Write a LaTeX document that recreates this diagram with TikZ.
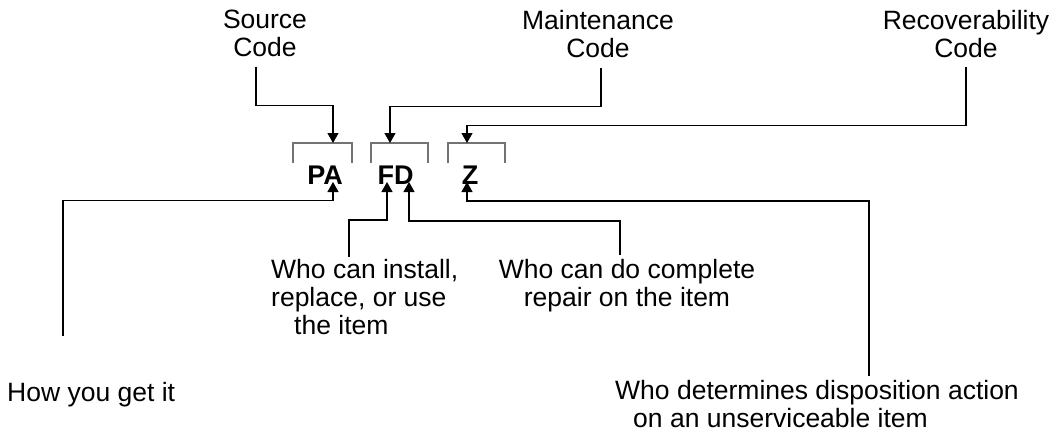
\documentclass[tikz,border=0pt]{standalone}
\usepackage{fontspec}
\setmainfont{Liberation Sans}
\usepackage{tikz}
\usetikzlibrary{positioning,arrows.meta}

\begin{document}
\begin{tikzpicture}[
    x=1pt, y=-1pt,
    labelNode/.style={inner sep=0pt, align=center, font=\fontsize{26.5}{28}\selectfont},
    letterNode/.style={inner sep=0pt, font=\fontsize{27}{28}\selectfont\bfseries},
    bracketLine/.style={draw=black!55, line width=1.3pt},
    codeArrow/.style={draw=black, line width=1.2pt, -{Triangle[length=10pt, width=11pt]}}
]
    \useasboundingbox (0,0) rectangle (1052,436);

    % code names on top
    \node[labelNode, anchor=north] (src) at (265,10) {Source\\Code};
    \node[labelNode, anchor=north] (mnt) at (598,10) {Maintenance\\Code};
    \node[labelNode, anchor=north] (rcv) at (966,10) {Recoverability\\Code};

    % the code letters
    \node[letterNode, anchor=base] (pa) at (325,184) {PA};
    \node[letterNode, anchor=base] (fd) at (395.5,184) {FD};
    \node[letterNode, anchor=base] (z)  at (470,184) {Z};

    \draw[bracketLine] (293,163) |- (352,143) -- (352,163);
    \draw[bracketLine] (371,163) |- (428,143) -- (428,163);
    \draw[bracketLine] (448,163) |- (505,143) -- (505,163);

    \coordinate (pa-top) at (333,143);
    \coordinate (fd-top) at (390,143);
    \coordinate (z-top)  at (467,143);
    \coordinate (pa-bot)   at ([xshift=8pt,yshift=2pt]pa.base);
    \coordinate (fd-bot-a) at ([xshift=-8.5pt,yshift=2pt]fd.base);
    \coordinate (fd-bot-b) at ([xshift=13.5pt,yshift=2pt]fd.base);
    \coordinate (z-bot)    at ([xshift=-3pt,yshift=2pt]z.base);

    % meanings below
    \node[labelNode, anchor=base west] (how) at (7,401) {How you get it};
    \node[labelNode, anchor=north west, align=left] (inst) at (271,259) {Who can install,\\replace, or use\\\hspace*{23pt}the item};
    \node[labelNode, anchor=north] (rep) at (627,259) {Who can do complete\\repair on the item};
    \node[labelNode, anchor=north west, align=left] (disp) at (615,380) {Who determines disposition action\\\hspace*{18pt}on an unserviceable item};

    \draw[codeArrow] ([xshift=-9pt,yshift=-9.5pt]src.south) -- ++(0,39) -| (pa-top);
    \draw[codeArrow] ([xshift=3pt,yshift=-10.5pt]mnt.south) -- ++(0,38) -| (fd-top);
    \draw[codeArrow] ([yshift=-9.5pt]rcv.south) -- ++(0,58) -| (z-top);

    \draw[codeArrow] ([xshift=56pt,yshift=46pt]how.north west) -- ++(0,-135) -| (pa-bot);
    \draw[codeArrow] ([xshift=78pt,yshift=2pt]inst.north west) -- ++(0,-37) -| (fd-bot-a);
    \draw[codeArrow] ([xshift=-7pt,yshift=4pt]rep.north) -- ++(0,-34) -| (fd-bot-b);
    \draw[codeArrow] ([xshift=254pt,yshift=4pt]disp.north west) -- ++(0,-175) -| (z-bot);
\end{tikzpicture}
\end{document}
